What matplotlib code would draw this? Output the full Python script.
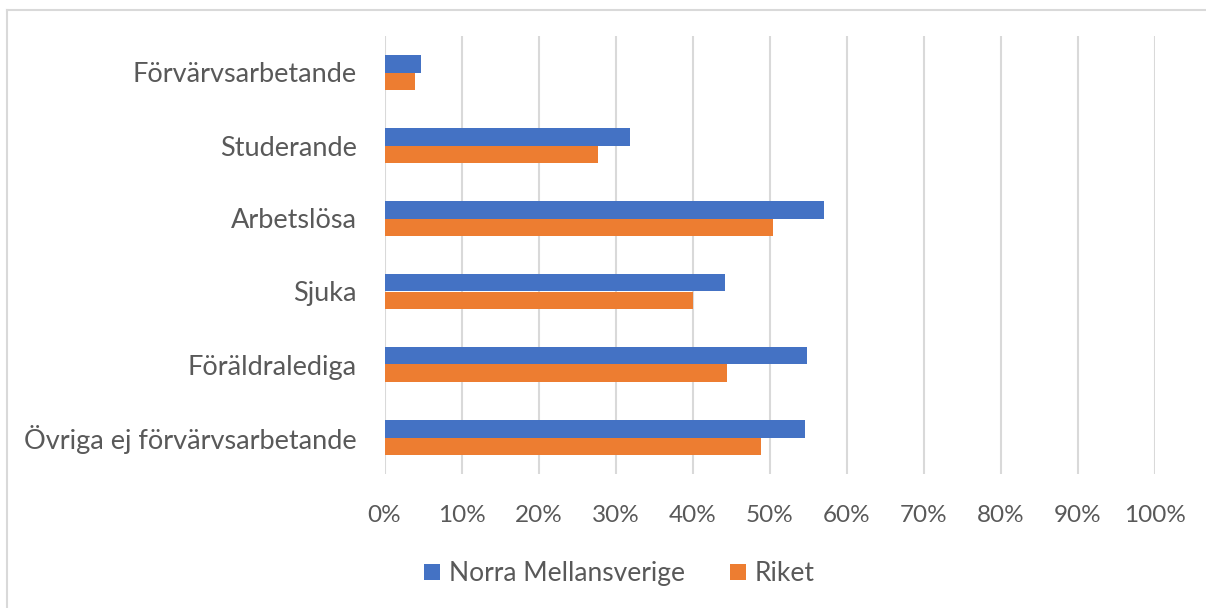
import matplotlib.pyplot as plt
import numpy as np
from matplotlib.lines import Line2D

categories = ['Förvärvsarbetande', 'Studerande', 'Arbetslösa', 'Sjuka',
              'Föräldralediga', 'Övriga ej förvärvsarbetande']
norra = [4.7, 31.9, 57.0, 44.2, 54.8, 54.6]
riket = [4.0, 27.7, 50.4, 40.0, 44.4, 48.9]
xticks = list(range(0, 101, 10))

blue = '#4472c4'
orange = '#ed7d31'
grid = '#d9d9d9'
text = '#595959'

plt.rcParams['font.family'] = ['Lato', 'DejaVu Sans']

fig = plt.figure(figsize=(12.06, 6.08), dpi=100)
ax = fig.add_axes([384.5 / 1206, 134 / 608, 770.5 / 1206, 438 / 608])

y = np.arange(len(categories))
h = 0.235
ax.barh(y - h / 2, norra, height=h, color=blue, label='Norra Mellansverige', zorder=3)
ax.barh(y + h / 2, riket, height=h, color=orange, label='Riket', zorder=3)

ax.set_xlim(0, 100)
ax.set_ylim(len(categories) - 0.5, -0.5)
ax.set_yticks(y)
ax.set_yticklabels(categories)
ax.set_xticks(xticks)
ax.set_xticklabels([f'{v}%' for v in xticks])
ax.tick_params(axis='both', length=0, labelcolor=text)
ax.tick_params(axis='y', pad=20, labelsize=19.5)
ax.tick_params(axis='x', pad=22, labelsize=17.5)
ax.grid(axis='x', color=grid, linewidth=1.5, zorder=0)
for s in ax.spines.values():
    s.set_visible(False)

ax.legend(loc='upper center', bbox_to_anchor=(0.305, -0.145), ncol=2, frameon=False,
          fontsize=19, labelcolor=text, handlelength=0.6, handleheight=0.6,
          handletextpad=0.35, columnspacing=1.7)

# Chart frame (only top and left edges visible)
fig.add_artist(Line2D([7 / 1206, 1], [1 - 10 / 608] * 2, color=grid, lw=1.5))
fig.add_artist(Line2D([7 / 1206] * 2, [0, 1 - 10 / 608], color=grid, lw=1.5))

fig.savefig('out.png', dpi=100)
